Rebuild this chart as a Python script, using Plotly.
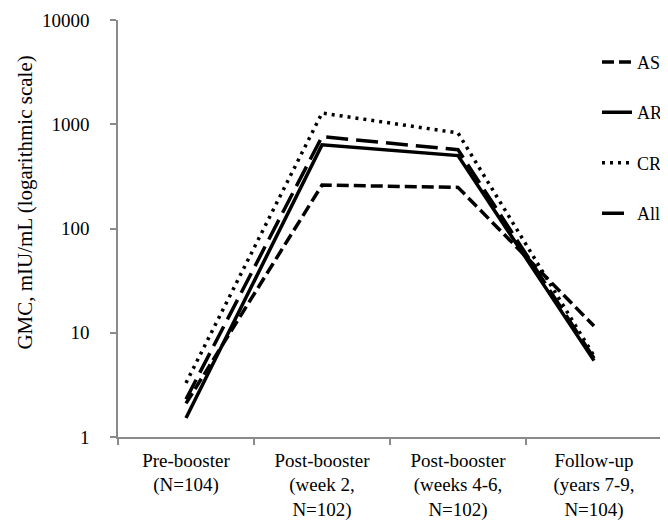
import plotly.graph_objects as go

categories = [
    "Pre-booster<br>(N=104)",
    "Post-booster<br>(week 2,<br>N=102)",
    "Post-booster<br>(weeks 4-6,<br>N=102)",
    "Follow-up<br>(years 7-9,<br>N=104)",
]
series_names = ["AS", "AR", "CR", "All"]
as_values = [2.1, 261, 248, 11.6]
ar_values = [1.52, 634, 500, 5.4]
cr_values = [3.3, 1280, 825, 6.0]
all_values = [2.3, 760, 570, 5.7]
y_tick_values = [1, 10, 100, 1000, 10000]
y_tick_labels = ["1", "10", "100", "1000", "10000"]

series_values = [as_values, ar_values, cr_values, all_values]
dashes = ["12px,5px", "solid", "3px,5px", "22px,8px"]

fig = go.Figure()
for i, (name, vals, dash) in enumerate(zip(series_names, series_values, dashes)):
    fig.add_trace(go.Scatter(
        x=categories, y=vals, name=name, mode="lines",
        line=dict(color="black", width=3.5, dash=dash),
        legendgroup=name,
    ))

axis_col = "#8a8a8a"
serif = "Liberation Serif, Times New Roman, serif"
fig.update_layout(
    width=660, height=512,
    margin=dict(l=110, r=6, t=12, b=83, autoexpand=False),
    paper_bgcolor="white", plot_bgcolor="white",
    showlegend=True,
    legend=dict(
        x=1.011, y=0.943, xanchor="right", yanchor="top",
        font=dict(family=serif, size=18, color="black"),
        tracegroupgap=24, bgcolor="rgba(0,0,0,0)", borderwidth=0,
    ),
    xaxis=dict(
        type="category", tickson="boundaries", automargin=False,
        showline=True, linecolor=axis_col, linewidth=1.5,
        ticks="outside", ticklen=6, tickcolor=axis_col, tickwidth=1.5,
        showgrid=False, zeroline=False,
        tickfont=dict(family=serif, size=19, color="black"),
        ticklabelstandoff=5,
        range=[-0.5, 3.5],
    ),
    yaxis=dict(
        type="log", range=[0, 4], automargin=False,
        tickvals=y_tick_values, ticktext=y_tick_labels,
        showline=True, linecolor=axis_col, linewidth=1.5,
        ticks="outside", ticklen=6, tickcolor=axis_col, tickwidth=1.5,
        showgrid=False, zeroline=False,
        tickfont=dict(family=serif, size=19, color="black"),
        ticklabelstandoff=17,
    ),
    annotations=[dict(
        text="GMC, mIU/mL (logarithmic scale)",
        xref="paper", yref="paper", x=-0.17, y=0.561,
        xanchor="center", yanchor="middle", textangle=-90, showarrow=False,
        font=dict(family=serif, size=21, color="black"),
    )],
)

fig.write_html("out.html")
